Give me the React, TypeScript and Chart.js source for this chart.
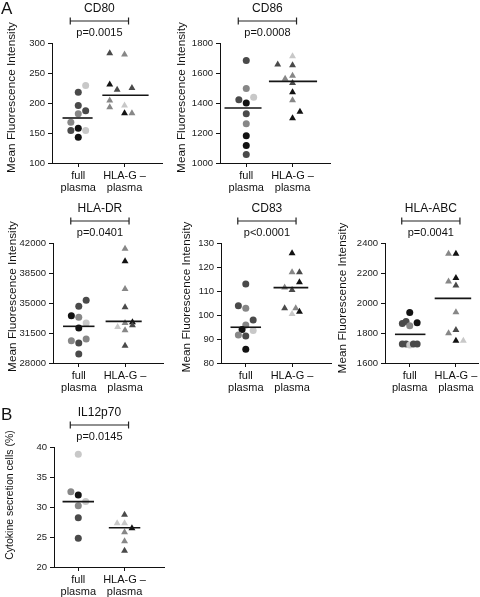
import React, { useEffect, useRef } from "react";
import { Chart, registerables } from "chart.js";

Chart.register(...registerables);

// ---------- data ----------
const categories: string[][] = [["full", "plasma"], ["HLA-G –", "plasma"]];

const cd80Full = [218, 229, 196, 182, 187, 168, 154, 158, 154, 143];
const cd80FullCol = [0, 1, 0, 0, 1, -1, -1, 0, 1, 0];
const cd80FullShade = ["d", "l", "d", "m", "d", "m", "d", "k", "l", "k"];
const cd80Hla = [283, 281, 231, 222, 225, 204, 193, 196, 183, 183];
const cd80HlaCol = [-2, 0, -2, -1, 1, -2, -2, 0, 0, 1];
const cd80HlaShade = ["d", "m", "k", "d", "d", "m", "m", "l", "k", "m"];
const cd80Means = [175, 213];
const cd80Ticks = [100, 150, 200, 250, 300];

const cd86Full = [1684, 1496, 1422, 1438, 1400, 1329, 1262, 1182, 1116, 1056];
const cd86FullCol = [0, 0, -1, 1, 0, 0, 0, 0, 0, 0];
const cd86FullShade = ["d", "m", "d", "l", "k", "d", "m", "k", "k", "d"];
const cd86Hla = [1711, 1656, 1651, 1562, 1582, 1533, 1471, 1418, 1342, 1298];
const cd86HlaCol = [0, -2, 0, -1, 0, 0, 0, 0, 1, 0];
const cd86HlaShade = ["l", "d", "d", "m", "m", "d", "k", "m", "k", "k"];
const cd86Means = [1367, 1544];
const cd86Ticks = [1000, 1200, 1400, 1600, 1800];

const drFull = [35311, 34611, 33522, 33328, 32667, 32083, 30606, 30800, 30333, 29050];
const drFullCol = [1, 0, -1, 0, 1, 0, -1, 1, 0, 0];
const drFullShade = ["d", "d", "k", "m", "l", "k", "m", "m", "d", "d"];
const drHla = [41339, 39861, 36633, 34494, 32200, 32667, 32744, 31811, 32394, 30022];
const drHlaCol = [0, 0, 0, 0, -1, 0, 1, 0, 1, 0];
const drHlaShade = ["m", "k", "m", "d", "l", "m", "k", "m", "d", "d"];
const drMeans = [32278, 32861];
const drTicks = [28000, 31500, 35000, 38500, 42000];

const cd83Full = [112.9, 103.9, 102.8, 97.9, 95.8, 94.0, 93.5, 91.7, 91.25, 85.7];
const cd83FullCol = [0, -1, 0, 1, 0, -0.5, 1, -1, 0, 0];
const cd83FullShade = ["d", "d", "m", "d", "m", "k", "l", "m", "d", "k"];
const cd83Hla = [125.7, 117.8, 117.8, 111.5, 110.4, 113.6, 102.8, 102.8, 100.4, 101.4];
const cd83HlaCol = [0, 0, 1, -1, 0, 1, -1, 0.5, 0, 1];
const cd83HlaShade = ["k", "m", "d", "m", "d", "k", "d", "m", "l", "k"];
const cd83Means = [94.9, 111.4];
const cd83Ticks = [80, 90, 100, 110, 120, 130];

const abcFull = [1936, 1864, 1876, 1849, 1869, 1727, 1727, 1720, 1727, 1727];
const abcFullCol = [0, -1, -0.5, 0, 1, -1, -0.5, 0, 0.5, 1];
const abcFullShade = ["k", "d", "d", "m", "k", "d", "d", "l", "d", "d"];
const abcHla = [2329, 2329, 2167, 2144, 2116, 1938, 1798, 1820, 1749, 1749];
const abcHlaCol = [-1, 0, 0, -1, 0, 0, -1, 0, 0, 1];
const abcHlaShade = ["m", "k", "k", "m", "d", "m", "m", "d", "k", "l"];
const abcMeans = [1791, 2031];
const abcTicks = [1600, 1800, 2000, 2200, 2400];

const il12Full = [38.8, 32.55, 32.0, 30.9, 30.2, 28.2, 24.8];
const il12FullCol = [0, -1, 0, 1, 0, 0, 0];
const il12FullShade = ["l", "m", "k", "l", "m", "d", "d"];
const il12Hla = [28.7, 27.3, 27.3, 25.8, 26.45, 24.3, 22.7];
const il12HlaCol = [0, -1, 0, 0, 1, 0, 0];
const il12HlaShade = ["d", "l", "l", "m", "k", "m", "d"];
const il12Means = [30.9, 26.55];
const il12Ticks = [20, 25, 30, 35, 40];

// ---------- styles ----------
const FONT = '"Liberation Sans", Arial, Helvetica, sans-serif';
const SHADES: Record<string, string> = { k: "#121212", d: "#4a4a4a", m: "#878787", l: "#c8c8c8" };
const UNIT = 46.7; // px per category
const STEP = 0.16; // jitter column step in category units
const YW = 52; // y-axis box width
const PAD_TOP = 43;
const PLOT_H = 120;
const XH = 34;

type PanelCfg = {
  title: string;
  p: string;
  yTitle: string;
  ySize: number;
  full: number[]; fullCol: number[]; fullShade: string[];
  hla: number[]; hlaCol: number[]; hlaShade: string[];
  means: number[]; ticks: number[];
  chartLeft: number; chartTop: number; plotW: number; catOffset: number;
  yDx: number; yCy: number;
  fullSpan: number[]; hlaSpan: number[];
};

const MFI = "Mean Fluorescence Intensity";

const panels: PanelCfg[] = [
  {
    title: "CD80", p: "p=0.0015", yTitle: MFI, ySize: 11.8,
    full: cd80Full, fullCol: cd80FullCol, fullShade: cd80FullShade,
    hla: cd80Hla, hlaCol: cd80HlaCol, hlaShade: cd80HlaShade,
    means: cd80Means, ticks: cd80Ticks,
    chartLeft: 52, chartTop: 43, plotW: 111, catOffset: 26.5,
    yDx: 40, yCy: 54.5, fullSpan: [-0.34, 0.31], hlaSpan: [-0.48, 0.52],
  },
  {
    title: "CD86", p: "p=0.0008", yTitle: MFI, ySize: 11.8,
    full: cd86Full, fullCol: cd86FullCol, fullShade: cd86FullShade,
    hla: cd86Hla, hlaCol: cd86HlaCol, hlaShade: cd86HlaShade,
    means: cd86Means, ticks: cd86Ticks,
    chartLeft: 220, chartTop: 43, plotW: 111, catOffset: 26.5,
    yDx: 38, yCy: 54.5, fullSpan: [-0.47, 0.33], hlaSpan: [-0.51, 0.53],
  },
  {
    title: "HLA-DR", p: "p=0.0401", yTitle: MFI, ySize: 11.8,
    full: drFull, fullCol: drFullCol, fullShade: drFullShade,
    hla: drHla, hlaCol: drHlaCol, hlaShade: drHlaShade,
    means: drMeans, ticks: drTicks,
    chartLeft: 53, chartTop: 243, plotW: 111, catOffset: 26,
    yDx: 40.5, yCy: 53.5, fullSpan: [-0.34, 0.34], hlaSpan: [-0.42, 0.36],
  },
  {
    title: "CD83", p: "p<0.0001", yTitle: MFI, ySize: 11.8,
    full: cd83Full, fullCol: cd83FullCol, fullShade: cd83FullShade,
    hla: cd83Hla, hlaCol: cd83HlaCol, hlaShade: cd83HlaShade,
    means: cd83Means, ticks: cd83Ticks,
    chartLeft: 221, chartTop: 243, plotW: 111, catOffset: 25,
    yDx: 34, yCy: 54, fullSpan: [-0.33, 0.33], hlaSpan: [-0.4, 0.35],
  },
  {
    title: "HLA-ABC", p: "p=0.0041", yTitle: MFI, ySize: 11.8,
    full: abcFull, fullCol: abcFullCol, fullShade: abcFullShade,
    hla: abcHla, hlaCol: abcHlaCol, hlaShade: abcHlaShade,
    means: abcMeans, ticks: abcTicks,
    chartLeft: 385, chartTop: 243, plotW: 94, catOffset: 25,
    yDx: 42, yCy: 55, fullSpan: [-0.32, 0.34], hlaSpan: [-0.46, 0.33],
  },
  {
    title: "IL12p70", p: "p=0.0145", yTitle: "Cytokine secretion cells (%)", ySize: 10.5,
    full: il12Full, fullCol: il12FullCol, fullShade: il12FullShade,
    hla: il12Hla, hlaCol: il12HlaCol, hlaShade: il12HlaShade,
    means: il12Means, ticks: il12Ticks,
    chartLeft: 54, chartTop: 447, plotW: 111, catOffset: 24.5,
    yDx: 44, yCy: 48, fullSpan: [-0.34, 0.34], hlaSpan: [-0.34, 0.34],
  },
];

const annotPlugin = {
  id: "annot",
  afterDraw(chart: any, _args: any, opts: any) {
    const { ctx, chartArea, scales } = chart;
    const x1 = scales.x.getPixelForValue(1) - 8;
    const x2 = scales.x.getPixelForValue(2) + 4;
    const cx = (x1 + x2) / 2;
    ctx.save();
    ctx.fillStyle = "#111";
    ctx.textAlign = "center";
    ctx.textBaseline = "middle";
    ctx.font = `12px ${FONT}`;
    ctx.fillText(opts.title, cx, chartArea.top - 34);
    const by = chartArea.top - 22;
    ctx.strokeStyle = "#222";
    ctx.lineWidth = 1.2;
    ctx.beginPath();
    ctx.moveTo(x1, by);
    ctx.lineTo(x2, by);
    ctx.moveTo(x1, by - 3.5);
    ctx.lineTo(x1, by + 3.5);
    ctx.moveTo(x2, by - 3.5);
    ctx.lineTo(x2, by + 3.5);
    ctx.stroke();
    ctx.font = `11px ${FONT}`;
    ctx.fillText(opts.p, cx, chartArea.top - 10);
    ctx.translate(chartArea.left - opts.yDx, chartArea.top + opts.yCy);
    ctx.rotate(-Math.PI / 2);
    ctx.font = `${opts.ySize}px ${FONT}`;
    ctx.fillText(opts.yTitle, 0, 0);
    ctx.restore();
  },
};

function PanelChart({ cfg }: { cfg: PanelCfg }) {
  const ref = useRef<HTMLCanvasElement | null>(null);
  const canvasLeft = cfg.chartLeft - YW;
  const canvasTop = cfg.chartTop - PAD_TOP;
  const width = YW + cfg.plotW + 3;
  const height = PAD_TOP + PLOT_H + XH;

  useEffect(() => {
    if (!ref.current) return;
    const xMin = 1 - cfg.catOffset / UNIT;
    const xMax = xMin + cfg.plotW / UNIT;
    const axisGrid = { display: true, drawOnChartArea: false, drawTicks: true, tickLength: 4, color: "#111", lineWidth: 1 };
    const axisBorder = { display: true, color: "#111", width: 1 };
    const meanLine = (cat: number, span: number[], m: number) => ({
      data: [{ x: cat + span[0], y: m }, { x: cat + span[1], y: m }],
      showLine: true,
      borderColor: "#151515",
      borderWidth: 1.6,
      pointRadius: 0,
      clip: false as any,
    });
    const chart = new Chart(ref.current, {
      type: "scatter",
      data: {
        datasets: [
          meanLine(1, cfg.fullSpan, cfg.means[0]) as any,
          meanLine(2, cfg.hlaSpan, cfg.means[1]) as any,
          {
            data: cfg.full.map((v, i) => ({ x: 1 + cfg.fullCol[i] * STEP, y: v })),
            pointStyle: "circle",
            pointRadius: 3.5,
            pointBackgroundColor: cfg.fullShade.map((s) => SHADES[s]),
            pointBorderWidth: 0,
            clip: false as any,
          },
          {
            data: cfg.hla.map((v, i) => ({ x: 2 + cfg.hlaCol[i] * STEP, y: v })),
            pointStyle: "triangle",
            pointRadius: 4,
            pointBackgroundColor: cfg.hlaShade.map((s) => SHADES[s]),
            pointBorderWidth: 0,
            clip: false as any,
          },
        ],
      },
      options: {
        animation: false,
        responsive: false,
        devicePixelRatio: 1,
        events: [],
        layout: { padding: { top: PAD_TOP, left: 0, right: 3, bottom: 0 } },
        plugins: {
          legend: { display: false },
          tooltip: { enabled: false },
          annot: { title: cfg.title, p: cfg.p, yTitle: cfg.yTitle, ySize: cfg.ySize, yDx: cfg.yDx, yCy: cfg.yCy },
        } as any,
        scales: {
          x: {
            type: "linear",
            min: xMin,
            max: xMax,
            afterBuildTicks: (s: any) => {
              s.ticks = [{ value: 1 }, { value: 2 }];
            },
            afterFit: (s: any) => {
              s.height = XH;
            },
            ticks: {
              callback: (v: any) => categories[Math.round(v) - 1],
              font: { size: 11, family: FONT, lineHeight: 1.1 },
              color: "#111",
              padding: 3,
              autoSkip: false,
              maxRotation: 0,
            },
            grid: axisGrid,
            border: axisBorder,
          },
          y: {
            type: "linear",
            min: cfg.ticks[0],
            max: cfg.ticks[cfg.ticks.length - 1],
            afterBuildTicks: (s: any) => {
              s.ticks = cfg.ticks.map((v) => ({ value: v }));
            },
            afterFit: (s: any) => {
              s.width = YW;
            },
            ticks: {
              callback: (v: any) => String(v),
              font: { size: 9.5, family: FONT },
              color: "#222",
              padding: 3,
            },
            grid: axisGrid,
            border: axisBorder,
          },
        },
      } as any,
      plugins: [annotPlugin],
    });
    return () => chart.destroy();
  }, [cfg]);

  return (
    <canvas
      ref={ref}
      width={width}
      height={height}
      style={{ position: "absolute", left: canvasLeft, top: canvasTop, width, height, display: "block" }}
    />
  );
}

export default function App() {
  const letter: React.CSSProperties = {
    position: "absolute",
    fontFamily: FONT,
    fontSize: 17,
    lineHeight: "17px",
    color: "#111",
  };
  return (
    <div
      style={{
        position: "absolute",
        left: 0,
        top: 0,
        width: 480,
        height: 597,
        overflow: "hidden",
        background: "#fff",
      }}
    >
      {panels.map((p) => (
        <PanelChart key={p.title} cfg={p} />
      ))}
      <div style={{ ...letter, left: 1, top: 0 }}>A</div>
      <div style={{ ...letter, left: 1, top: 406 }}>B</div>
    </div>
  );
}
